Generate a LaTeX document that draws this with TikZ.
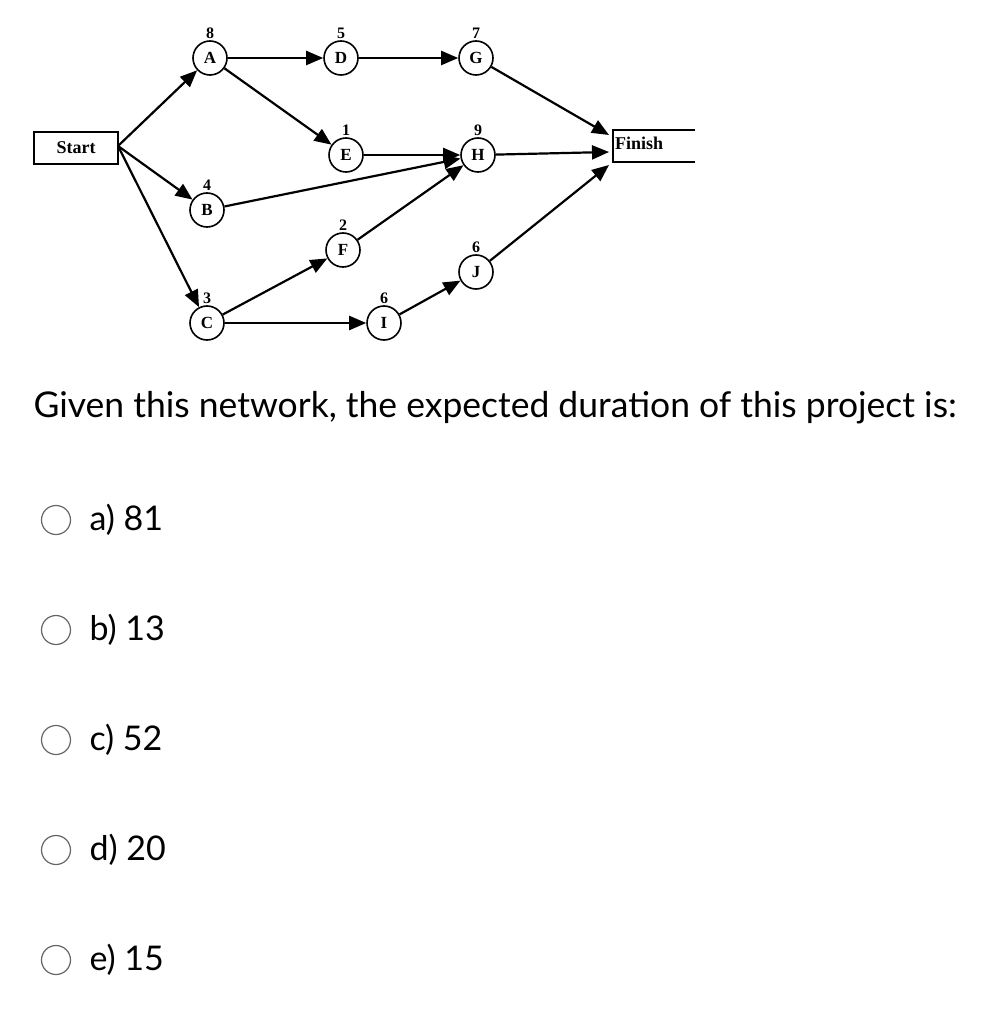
\documentclass[tikz,border=0pt]{standalone}
\usepackage{fontspec}
\setmainfont{Liberation Serif}
\newfontfamily\lato{Lato}
\usetikzlibrary{arrows.meta}
\begin{document}
\begin{tikzpicture}[x=1pt,y=-1pt,
  act/.style={circle,draw,line width=1.6pt,minimum size=34pt,inner sep=0pt,font=\bfseries\fontsize{17}{17}\selectfont},
  dur/.style={anchor=south,inner sep=1pt,font=\bfseries\fontsize{16}{16}\selectfont},
  arr/.style={line width=2.2pt,-{Triangle[length=17pt,width=14pt]}},
  opt/.style={circle,draw=gray!80!black,line width=1.2pt,minimum size=29pt,inner sep=0pt},
  otxt/.style={anchor=west,font=\lato\fontsize{34}{34}\selectfont}]
\useasboundingbox (0,0) rectangle (991,1024);
\node[draw,line width=1.4pt,minimum width=84pt,minimum height=32pt,font=\bfseries\fontsize{18}{18}\selectfont] (S) at (76,148) {Start};
\node[act] (A) at (210,58) {A};
\node[act] (D) at (341,58) {D};
\node[act] (G) at (476,58) {G};
\node[act] (E) at (346,155) {E};
\node[act] (H) at (478,155) {H};
\node[act] (B) at (207,210) {B};
\node[act] (F) at (343,250) {F};
\node[act] (J) at (476,272) {J};
\node[act] (C) at (207,323) {C};
\node[act] (I) at (384,323) {I};
\foreach \n/\d in {A/8,D/5,G/7,E/1,H/9,B/4,F/2,J/6,C/3,I/6}
  \node[dur] (l\n) at (\n.north) {\d};
\coordinate (S1) at (118,146);
\coordinate (F1) at (609,135);
\coordinate (F2) at (609,152);
\coordinate (F3) at (609,165);
\draw[line width=1.4pt] (613,130) -- (695,130) (613,162) -- (695,162) (613,129) -- (613,163);
\node[font=\bfseries\fontsize{18}{18}\selectfont,anchor=west,inner sep=1pt] (FinT) at (614,143) {Finish};
\draw[arr] (S1) -- (A);
\draw[arr] (S1) -- (B);
\draw[arr] (S1) -- (C);
\draw[arr] (A) -- (D);
\draw[arr] (A) -- (E);
\draw[arr] (D) -- (G);
\draw[arr] (E) -- (H);
\draw[arr] (B) -- (H);
\draw[arr] (F) -- (H);
\draw[arr] (C) -- (F);
\draw[arr] (C) -- (I);
\draw[arr] (I) -- (J);
\draw[arr] (G) -- (F1);
\draw[arr] (H) -- (F2);
\draw[arr] (J) -- (F3);
\node[anchor=west,font=\lato\fontsize{35.5}{36}\selectfont] (Q) at (30,408) {Given this network, the expected duration of this project is:};
\foreach \y/\t [count=\i] in {520/a) 81,630/b) 13,740/c) 52,850/d) 20,960/e) 15}{
  \node[opt] (o\i) at (56,\y) {};
  \node[otxt] (t\i) at (86,\y) {\t};
}
\end{tikzpicture}
\end{document}
